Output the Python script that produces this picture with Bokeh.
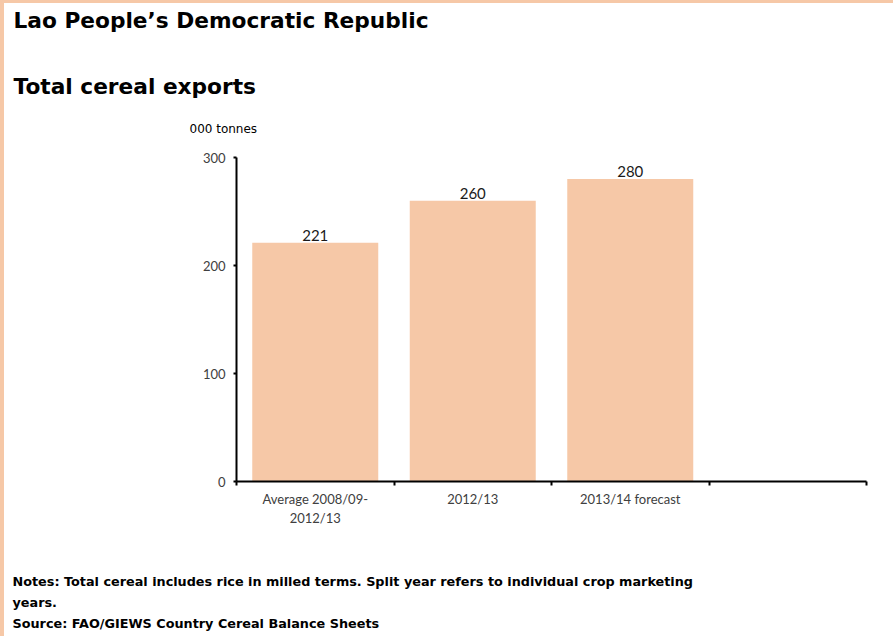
from bokeh.plotting import figure
from bokeh.models import Range1d, FixedTicker
from bokeh.layouts import column
from bokeh.core.properties import value
from bokeh.embed import file_html
from bokeh.resources import INLINE

# ---- data ----
categories = ["Average 2008/09-\n2012/13", "2012/13", "2013/14 forecast"]
values = [221, 260, 280]
y_ticks = [0, 100, 200, 300]
n_slots = 4

title1 = "Lao People\u2019s Democratic Republic"
title2 = "Total cereal exports"
unit_label = "000 tonnes"
notes = [
    "Notes: Total cereal includes rice in milled terms.  Split year refers to individual crop marketing",
    "years.",
    "Source: FAO/GIEWS Country Cereal Balance Sheets",
]

BAR = "#F6C8A7"
FONT = "Lato"
WIDE = "DejaVu Sans"
W = 889


def text_panel(h):
    f = figure(width=W, height=h, output_backend="svg", toolbar_location=None,
               x_range=Range1d(0, W), y_range=Range1d(h, 0),
               x_axis_location=None, y_axis_location=None,
               min_border=0, frame_align=False)
    f.outline_line_color = None
    f.xgrid.visible = False
    f.ygrid.visible = False
    return f


def put(f, txt, x, y, size, bold=False, font=WIDE):
    f.text(x=[x], y=[y], text=[txt], text_font=value(font), text_font_size=size,
           text_font_style="bold" if bold else "normal", text_color="black",
           text_baseline="middle", text_align="left")


# header
HH = 142
head = text_panel(HH)
put(head, title1, 9, 17, "21.7px", bold=True)
put(head, title2, 9, 83, "21.7px", bold=True)
put(head, unit_label, 185, 125, "12px")

# main chart
p = figure(width=W, height=415, output_backend="svg", toolbar_location=None,
           x_range=Range1d(0, n_slots), y_range=Range1d(0, y_ticks[-1]),
           min_border_left=232, min_border_right=27, min_border_top=12,
           min_border_bottom=79, frame_align=False)
p.outline_line_color = None
p.xgrid.visible = False
p.ygrid.visible = False

xs = [i + 0.5 for i in range(len(values))]
p.vbar(x=xs, top=values, width=0.8, fill_color=BAR, line_color=None)
p.text(x=xs, y=values, text=[str(v) for v in values], text_align="center",
       text_baseline="bottom", text_font=value(FONT), text_font_size="15px",
       text_color="#1a1a1a", y_offset=-2)

xa = p.xaxis[0]
xa.ticker = FixedTicker(ticks=xs, minor_ticks=list(range(n_slots + 1)))
xa.major_label_overrides = {x: c for x, c in zip(xs, categories)}
xa.major_tick_out = 0
xa.major_tick_in = 0
xa.minor_tick_out = 4
xa.minor_tick_in = 0
xa.minor_tick_line_width = 2
xa.axis_line_width = 2
xa.axis_line_color = "black"
xa.minor_tick_line_color = "black"
xa.major_label_text_font = FONT
xa.major_label_text_font_size = "13px"
xa.major_label_text_color = "#404040"
xa.major_label_standoff = 5

ya = p.yaxis[0]
ya.ticker = FixedTicker(ticks=y_ticks, minor_ticks=[])
ya.major_tick_out = 3
ya.major_tick_in = 0
ya.major_tick_line_width = 2
ya.major_tick_line_color = "black"
ya.axis_line_width = 2
ya.axis_line_color = "black"
ya.major_label_text_font = FONT
ya.major_label_text_font_size = "13px"
ya.major_label_text_color = "#404040"
ya.major_label_standoff = 8

# footer
FH = 76
foot = text_panel(FH)
for i, line in enumerate(notes):
    put(foot, line, 8, 21 + 21 * i, "12.8px", bold=True)

layout = column(head, p, foot, spacing=0,
                styles={"border-left": f"4px solid {BAR}",
                        "border-top": f"3px solid {BAR}"})

open("out.html", "w").write(file_html(layout, INLINE))
